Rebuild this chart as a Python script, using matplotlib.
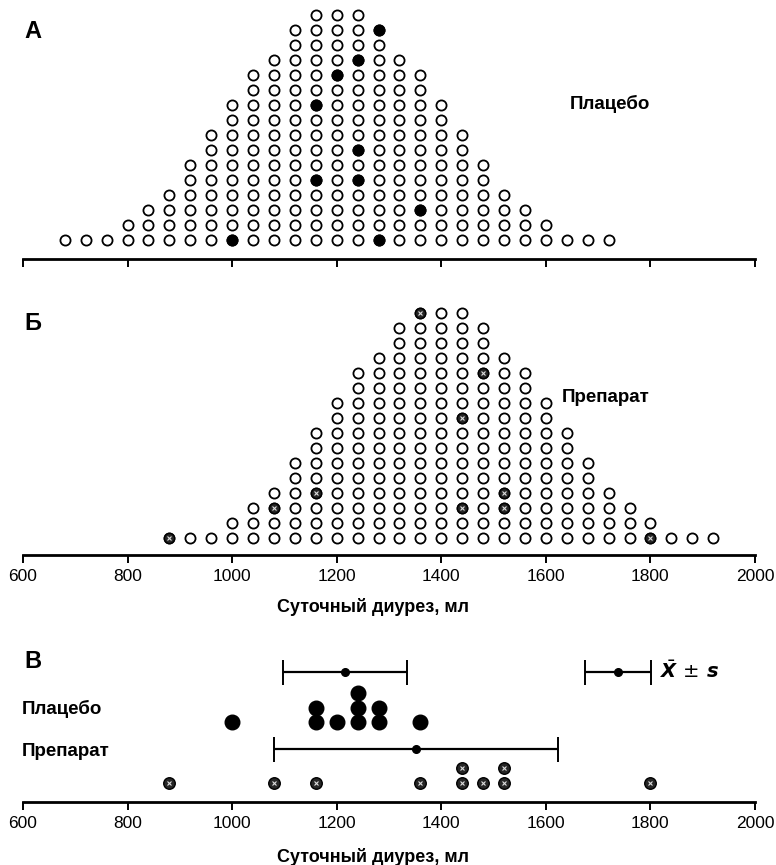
import numpy as np
import matplotlib
matplotlib.use("Agg")
from matplotlib import pyplot as plt

# population of 200 values (column = bin in ml, count = stacked circles)
placebo_bins = [680, 720, 760, 800, 840, 880, 920, 960, 1000, 1040, 1080, 1120, 1160, 1200,
				1240, 1280, 1320, 1360, 1400, 1440, 1480, 1520, 1560, 1600, 1640, 1680, 1720]
placebo_counts = [1, 1, 1, 2, 3, 4, 6, 8, 10, 12, 13, 15, 16, 16, 16, 15, 13, 12, 10, 8, 6, 4, 3, 2, 1, 1, 1]

drug_bins = [880, 920, 960, 1000, 1040, 1080, 1120, 1160, 1200, 1240, 1280, 1320, 1360, 1400,
			 1440, 1480, 1520, 1560, 1600, 1640, 1680, 1720, 1760, 1800, 1840, 1880, 1920]
drug_counts = [1, 1, 1, 2, 3, 4, 6, 8, 10, 12, 13, 15, 16, 16, 16, 15, 13, 12, 10, 8, 6, 4, 3, 2, 1, 1, 1]

# sampled values (and their row in the population plot)
placebo_sample = [1000, 1280, 1160, 1240, 1240, 1160, 1200, 1240, 1280, 1360]
placebo_sample_row = [1, 1, 5, 5, 7, 10, 12, 13, 15, 3]
drug_sample = [880, 1080, 1160, 1360, 1440, 1440, 1480, 1520, 1520, 1800]
drug_sample_row = [1, 3, 4, 16, 9, 3, 12, 4, 3, 1]

placebo_mean, placebo_sd = 1216, 118
drug_mean, drug_sd = 1352, 271
legend_mean, legend_sd = 1738, 63

xticks = [600, 800, 1000, 1200, 1400, 1600, 1800, 2000]

W, H = 776, 865
FONT = "Liberation Sans"
SAMPLE_FILL = "#262626"
XLABEL = "Суточный диурез, мл"


def px_axes(fig, top, bottom):
	return fig.add_axes([23 / W, 1 - bottom / H, 732 / W, (bottom - top) / H])


def fig_text(fig, x, y, s, **kw):
	kw.setdefault("family", FONT)
	kw.setdefault("weight", "bold")
	kw.setdefault("va", "center")
	fig.text(x / W, 1 - y / H, s, **kw)


def style_axis(ax, labels):
	ax.set_xlim(600, 2000)
	for side in ("top", "left", "right"):
		ax.spines[side].set_visible(False)
	ax.spines["bottom"].set_linewidth(2.0)
	ax.set_yticks([])
	ax.set_xticks(xticks)
	ax.tick_params(axis="x", direction="out", length=6, width=1.4, pad=4,
				   labelbottom=labels, labelsize=12.5)
	for t in ax.get_xticklabels():
		t.set_family(FONT)
	ax.patch.set_alpha(0)


def hatched(ax, x, y, ms):
	ax.plot(x, y, "o", ms=ms, mfc=SAMPLE_FILL, mec="black", mew=1.0, clip_on=False, zorder=3)
	ax.plot(x, y, "x", ms=ms * 0.3, mec="#dddddd", mew=0.8, clip_on=False, zorder=4)


def population(ax, bins, counts):
	xs, ys = [], []
	for b, c in zip(bins, counts):
		for r in range(1, c + 1):
			xs.append(b)
			ys.append(r)
	ax.plot(xs, ys, "o", ms=7.3, mfc="white", mec="black", mew=1.3, clip_on=False, zorder=2)


def stack(values):
	seen = {}
	levels = []
	for v in values:
		seen[v] = seen.get(v, 0) + 1
		levels.append(seen[v] - 1)
	return levels


fig = plt.figure(figsize=(W / 100, H / 100), dpi=100)

# ---- A: placebo population
ax_a = px_axes(fig, 0, 259)
style_axis(ax_a, False)
ax_a.set_ylim(1 - 19 / 15, 1 + 259 / 15 - 19 / 15)
population(ax_a, placebo_bins, placebo_counts)
ax_a.plot(placebo_sample, placebo_sample_row, "o", ms=7.3, mfc="black", mec="black",
		  mew=1.3, clip_on=False, zorder=3)
fig_text(fig, 24, 32, "А", fontsize=17, weight="heavy")
fig_text(fig, 570, 104, "Плацебо", fontsize=13.5)

# ---- Б: drug population
ax_b = px_axes(fig, 290, 555)
style_axis(ax_b, True)
ax_b.set_ylim(1 - 17 / 15, 1 + (538 - 290) / 15)
population(ax_b, drug_bins, drug_counts)
hatched(ax_b, drug_sample, drug_sample_row, 7.3)
ax_b.set_xlabel(XLABEL, family=FONT, weight="bold", fontsize=13)
ax_b.xaxis.label.set_position(((373 - 23) / 732, 0))
ax_b.xaxis.labelpad = 10
fig_text(fig, 24, 323, "Б", fontsize=17, weight="heavy")
fig_text(fig, 562, 397, "Препарат", fontsize=13.5)

# ---- В: samples with mean +- SD
ax_c = px_axes(fig, 645, 802)
style_axis(ax_c, True)
ax_c.set_ylim(0, 157)
ax_c.set_xlabel(XLABEL, family=FONT, weight="bold", fontsize=13)
ax_c.xaxis.label.set_position(((373 - 23) / 732, 0))
ax_c.xaxis.labelpad = 12

p_lvl = stack(placebo_sample)
ax_c.plot(placebo_sample, [80 + 14.5 * l for l in p_lvl], "o", ms=10.5, color="black",
		  clip_on=False, zorder=3)
d_lvl = stack(drug_sample)
hatched(ax_c, drug_sample, [19 + 15.5 * l for l in d_lvl], 8.3)

eb = dict(fmt="o", color="black", ms=5.5, capsize=9, elinewidth=1.6, capthick=1.4, clip_on=False)
ax_c.errorbar([placebo_mean], [130], xerr=[placebo_sd], **eb)
ax_c.errorbar([drug_mean], [53], xerr=[drug_sd], **eb)
ax_c.errorbar([legend_mean], [130], xerr=[legend_sd], **eb)
ax_c.text(1818, 131, r"$\bar{\mathbfit{X}}\,\pm\,\mathbfit{s}$", fontsize=14, va="center")

fig_text(fig, 24, 661, "В", fontsize=17, weight="heavy")
fig_text(fig, 22, 709, "Плацебо", fontsize=13.5)
fig_text(fig, 22, 752, "Препарат", fontsize=13.5)

plt.savefig("out.png", dpi=100)
